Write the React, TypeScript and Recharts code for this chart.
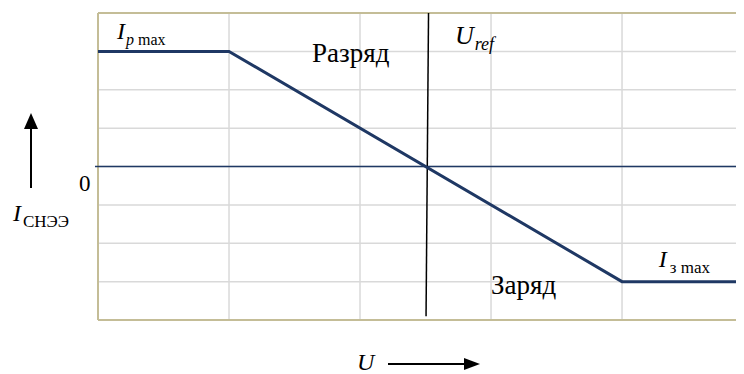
import React from 'react';
import {
  LineChart, Line, XAxis, YAxis, ReferenceLine, ReferenceDot
} from 'recharts';

// voltage (grid units) and storage current (grid units)
const voltage = [0, 1, 4, 4.93];
const current = [3, 3, -3, -3];

const xTicks = [0, 1, 2, 3, 4];
const yTicks = [-4, -3, -2, -1, 0, 1, 2, 3, 4];

// Uref marker line
const urefTop = { x: 2.523, y: 4 };
const urefBottom = { x: 2.504, y: -3.9 };

const data = voltage.map((u, i) => ({ u, i: current[i] }));

const FONT = 'Liberation Serif';

type Lbl = { x: number; y: number; main: string; mainItalic: boolean; size: number; sub?: string; subItalic?: string; subSize?: number };

const labels: Lbl[] = [
  { x: 0.145, y: 3.33, main: 'I', mainItalic: true, size: 24, subItalic: 'p', sub: ' max', subSize: 16 },
  { x: 1.634, y: 2.73, main: 'Разряд', mainItalic: false, size: 27 },
  { x: 2.725, y: 3.2, main: 'U', mainItalic: true, size: 26, subItalic: 'ref', subSize: 18 },
  { x: 3.0, y: -3.33, main: 'Заряд', mainItalic: false, size: 27 },
  { x: 4.28, y: -2.63, main: 'I', mainItalic: true, size: 24, sub: 'з max', subSize: 17 },
  { x: -0.145, y: -0.65, main: '0', mainItalic: false, size: 23 },
];

const TextMark = ({ cx, cy, l }: { cx: number; cy: number; l: Lbl }) => (
  <text x={cx} y={cy} fontFamily={FONT} fontSize={l.size} fill="#000">
    <tspan fontStyle={l.mainItalic ? 'italic' : 'normal'}>{l.main}</tspan>
    {l.subItalic && (
      <tspan fontStyle="italic" fontSize={l.subSize} dy={6} dx={1}>{l.subItalic}</tspan>
    )}
    {l.sub && (
      <tspan fontSize={l.subSize} dy={l.subItalic ? 0 : 6} dx={l.subItalic ? 0 : 3}>{l.sub}</tspan>
    )}
  </text>
);

const App = () => {
  return (
    <div style={{ position: 'relative', width: 736, height: 366 }}>
      <LineChart width={736} height={366} data={data} margin={{ top: 5, right: 0, bottom: 54, left: 90 }}>
        <XAxis dataKey="u" type="number" domain={[0, 4.931]} ticks={xTicks} tick={false} axisLine={false} tickLine={false} height={0} allowDataOverflow />
        <YAxis type="number" domain={[-4, 4]} ticks={yTicks} tick={false} axisLine={false} tickLine={false} width={0} />

        {/* light grid */}
        {xTicks.map((t) => <ReferenceLine key={'gx' + t} x={t} stroke="#d9d9d9" strokeWidth={1.5} />)}
        {yTicks.map((t) => <ReferenceLine key={'gy' + t} y={t} stroke="#d9d9d9" strokeWidth={1.5} />)}

        {/* tan plot border */}
        <ReferenceLine x={0} stroke="#c4bd97" strokeWidth={2} />
        <ReferenceLine y={4} stroke="#c4bd97" strokeWidth={2} />
        <ReferenceLine y={-4} stroke="#c4bd97" strokeWidth={2} />

        <ReferenceLine segment={[{ x: -0.023, y: 0 }, { x: 4.931, y: 0 }]} stroke="#1f3864" strokeWidth={1.5} ifOverflow="visible" />
        <ReferenceLine segment={[urefTop, urefBottom]} stroke="#000" strokeWidth={1.5} ifOverflow="visible" />

        <Line dataKey="i" type="linear" stroke="#1f3864" strokeWidth={3} dot={false} isAnimationActive={false} />

        {labels.map((l, k) => (
          <ReferenceDot key={k} x={l.x} y={l.y} r={0} ifOverflow="visible" isFront
            shape={(p: any) => <TextMark cx={p.cx} cy={p.cy} l={l} />} />
        ))}
      </LineChart>

      {/* axis arrows and titles outside the plot */}
      <svg width={744} height={374} style={{ position: 'absolute', left: -8, top: -8, pointerEvents: 'none' }}>
        <line x1={31} y1={188} x2={31} y2={127} stroke="#000" strokeWidth={2} />
        <polygon points="24,129 38,129 31,113" fill="#000" />
        <text x={13} y={221} fontFamily={FONT} fontSize={24}>
          <tspan fontStyle="italic">I</tspan>
          <tspan fontSize={17} dy={6} dx={2}>СНЭЭ</tspan>
        </text>
        <text x={357} y={370} fontFamily={FONT} fontSize={24} fontStyle="italic">U</text>
        <line x1={388} y1={364} x2={466} y2={364} stroke="#000" strokeWidth={2} />
        <polygon points="464,358 464,370 480,364" fill="#000" />
      </svg>
    </div>
  );
};

export default App;
